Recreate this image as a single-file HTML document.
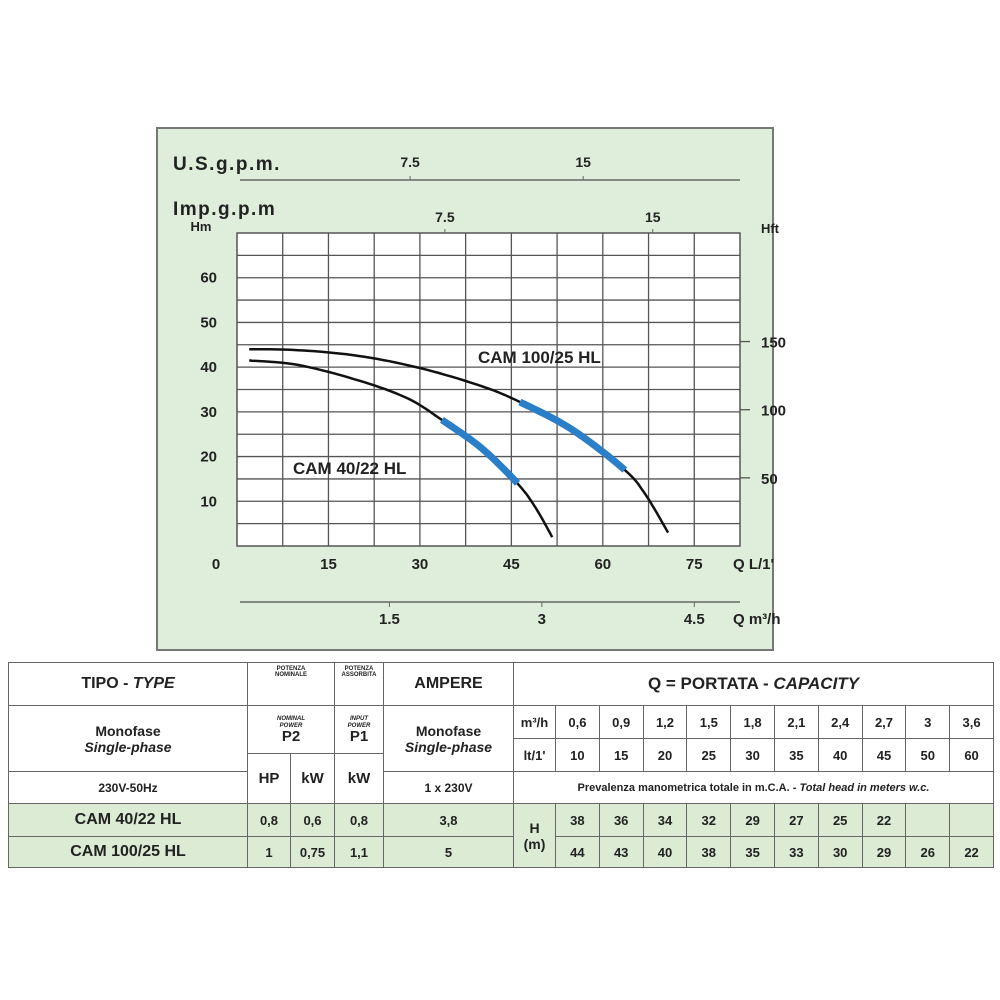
<!DOCTYPE html>
<html><head><meta charset="utf-8"><style>
body{margin:0;background:#fff;width:1000px;height:1000px;position:relative;overflow:hidden;font-family:"Liberation Sans",sans-serif}
svg text{font-family:"Liberation Sans",sans-serif;font-weight:bold;fill:#222}
table{position:absolute;left:8px;top:662px;border-collapse:collapse;width:985px;table-layout:fixed}
td{border:1.5px solid #666;text-align:center;font-weight:bold;color:#222;padding:0;font-size:13px}
.g td{background:#dcebd4}
</style></head><body>
<svg width="1000" height="660" style="position:absolute;left:0;top:0">
<rect x="157" y="128" width="616" height="522" fill="#dfeedb" stroke="#777" stroke-width="2"/>
<g id="grid"></g>
<g id="axes"></g>
<g id="curves"></g>
</svg>
<table>
<colgroup><col style="width:239px"><col style="width:43px"><col style="width:44px"><col style="width:49px"><col style="width:130px"><col style="width:42px"><col span="10" style="width:43.8px"></colgroup>
<tr style="height:43px"><td style="font-size:16px">TIPO - <i>TYPE</i></td><td colspan="2" style="font-size:6px;vertical-align:top;padding-top:3px">POTENZA<br>NOMINALE</td><td style="font-size:6px;vertical-align:top;padding-top:3px">POTENZA<br>ASSORBITA</td><td style="font-size:16px">AMPERE</td><td colspan="11" style="font-size:17px">Q = PORTATA - <i>CAPACITY</i></td></tr>
<tr style="height:33px"><td rowspan="3" style="font-size:14px">Monofase<br><i>Single-phase</i></td><td colspan="2" rowspan="2" style="font-size:15px;line-height:14px"><i style="font-size:6px;line-height:7px;display:block">NOMINAL<br>POWER</i>P2</td><td rowspan="2" style="font-size:15px;line-height:14px"><i style="font-size:6px;line-height:7px;display:block">INPUT<br>POWER</i>P1</td><td rowspan="3" style="font-size:14px">Monofase<br><i>Single-phase</i></td><td>m³/h</td><td>0,6</td><td>0,9</td><td>1,2</td><td>1,5</td><td>1,8</td><td>2,1</td><td>2,4</td><td>2,7</td><td>3</td><td>3,6</td></tr>
<tr style="height:15px"><td rowspan="2">lt/1'</td><td rowspan="2">10</td><td rowspan="2">15</td><td rowspan="2">20</td><td rowspan="2">25</td><td rowspan="2">30</td><td rowspan="2">35</td><td rowspan="2">40</td><td rowspan="2">45</td><td rowspan="2">50</td><td rowspan="2">60</td></tr>
<tr style="height:18px"><td rowspan="2" style="font-size:15px">HP</td><td rowspan="2" style="font-size:15px">kW</td><td rowspan="2" style="font-size:15px">kW</td></tr>
<tr style="height:32px"><td style="font-size:12px">230V-50Hz</td><td style="font-size:12px">1 x 230V</td><td colspan="11" style="font-size:11px">Prevalenza manometrica totale in m.C.A. - <i>Total head in meters w.c.</i></td></tr>
<tr class="g" style="height:33px"><td style="font-size:16px">CAM 40/22 HL</td><td>0,8</td><td>0,6</td><td>0,8</td><td>3,8</td><td rowspan="2" style="font-size:14px">H<br>(m)</td><td>38</td><td>36</td><td>34</td><td>32</td><td>29</td><td>27</td><td>25</td><td>22</td><td></td><td></td></tr>
<tr class="g" style="height:31px"><td style="font-size:16px">CAM 100/25 HL</td><td>1</td><td>0,75</td><td>1,1</td><td>5</td><td>44</td><td>43</td><td>40</td><td>38</td><td>35</td><td>33</td><td>30</td><td>29</td><td>26</td><td>22</td></tr>
</table>
<script>
const xTicks=[0,15,30,45,60,75];
const yTicks=[10,20,30,40,50,60];
const ftTicks=[50,100,150];
const usTicks=[7.5,15];
const impTicks=[7.5,15];
const m3Ticks=[1.5,3,4.5];
const cam40Q=[2,10,20,28,33.6,40,46,49,51.7];
const cam40H=[41.5,40.5,37,33,28.2,22,14,8.5,2];
const cam100Q=[2,10,20,30,40,46.4,55,63.6,67,70.7];
const cam100H=[44,43.8,42.5,39.8,35.8,32.2,26,17,11.5,3];
const cam40Blue=[33.6,46];
const cam100Blue=[46.4,63.6];
const NS="http://www.w3.org/2000/svg";
const X0=237,X1=740,Y0=546,Y1=233;
const xs=q=>X0+q*(X1-X0)/82.5;
const ys=h=>Y0-h*(Y0-Y1)/70;
function mk(t,a,p){const e=document.createElementNS(NS,t);for(const k in a)e.setAttribute(k,a[k]);(p||document.getElementById('axes')).appendChild(e);return e;}
function txt(s,x,y,sz,anchor){const e=mk('text',{x:x,y:y,'font-size':sz,'text-anchor':anchor||'middle'});e.textContent=s;return e;}
const grid=document.getElementById('grid');
const bg=mk('rect',{x:X0,y:Y1,width:X1-X0,height:Y0-Y1,fill:'#fff',stroke:'#555','stroke-width':1.5},grid);


for(let i=1;i<11;i++)mk('line',{x1:xs(i*7.5),x2:xs(i*7.5),y1:Y1,y2:Y0,stroke:'#555','stroke-width':1.3},grid);
for(let i=1;i<14;i++)mk('line',{x1:X0,x2:X1,y1:ys(i*5),y2:ys(i*5),stroke:'#555','stroke-width':1.3},grid);
xTicks.forEach(v=>{const t=txt(String(v),v===0?216:xs(v),569,15);});
txt("Q  L/1'",733,569,15,'start');
yTicks.forEach(v=>{const t=txt(String(v),217,ys(v)+5,15,'end');});
txt('Hm',201,231,13);
txt('Hft',770,233,13);
ftTicks.forEach(v=>{const y=ys(v*0.3048);mk('line',{x1:X1,x2:X1+10,y1:y,y2:y,stroke:'#555','stroke-width':1.3});const t=txt(String(v),761,y+6,15,'start');});
const usT=txt('U.S.g.p.m.',173,170,19,'start');usT.setAttribute('letter-spacing','1.5');
mk('line',{x1:240,x2:740,y1:180,y2:180,stroke:'#666','stroke-width':1.5});
usTicks.forEach(v=>{const x=xs(v*3.785);mk('line',{x1:x,x2:x,y1:176,y2:180,stroke:'#666'});txt(String(v),x,167,14);});
const impT=txt('Imp.g.p.m',173,215,19,'start');impT.setAttribute('letter-spacing','1.5');
impTicks.forEach(v=>{const x=xs(v*4.546);mk('line',{x1:x,x2:x,y1:Y1-4,y2:Y1,stroke:'#666'});txt(String(v),x,222,14);});
mk('line',{x1:240,x2:740,y1:602,y2:602,stroke:'#666','stroke-width':1.5});
m3Ticks.forEach(v=>{const x=xs(v*1000/60);mk('line',{x1:x,x2:x,y1:602,y2:607,stroke:'#666'});txt(String(v),x,624,15);});
txt('Q  m³/h',733,624,15,'start');
const cg=document.getElementById('curves');
function smooth(Q,H,lo,hi){const pts=[];for(let i=0;i<Q.length-1;i++){for(let s=0;s<10;s++){const t=s/10;const q0=Q[Math.max(i-1,0)],q1=Q[i],q2=Q[i+1],q3=Q[Math.min(i+2,Q.length-1)];const h0=H[Math.max(i-1,0)],h1=H[i],h2=H[i+1],h3=H[Math.min(i+2,H.length-1)];const cr=(a,b,c,d)=>0.5*(2*b+(-a+c)*t+(2*a-5*b+4*c-d)*t*t+(-a+3*b-3*c+d)*t*t*t);pts.push([cr(q0,q1,q2,q3),cr(h0,h1,h2,h3)]);}}pts.push([Q[Q.length-1],H[H.length-1]]);let d='';pts.forEach(p=>{if(p[0]<lo-0.01||p[0]>hi+0.01)return;d+=(d?'L':'M')+xs(p[0]).toFixed(1)+','+ys(p[1]).toFixed(1);});return d;}
function curve(Q,H,blue,name){const p=mk('path',{d:smooth(Q,H,-1,999),fill:'none',stroke:'#111','stroke-width':2.5},cg);const b=mk('path',{d:smooth(Q,H,blue[0],blue[1]),fill:'none',stroke:'#2a7fc8','stroke-width':7},cg);}
curve(cam40Q,cam40H,cam40Blue,'cam-40-22');
curve(cam100Q,cam100H,cam100Blue,'cam-100-25');
const l1=txt('CAM 100/25 HL',478,363,17,'start');
const l2=txt('CAM 40/22 HL',293,474,17,'start');
</script>
</body></html>
